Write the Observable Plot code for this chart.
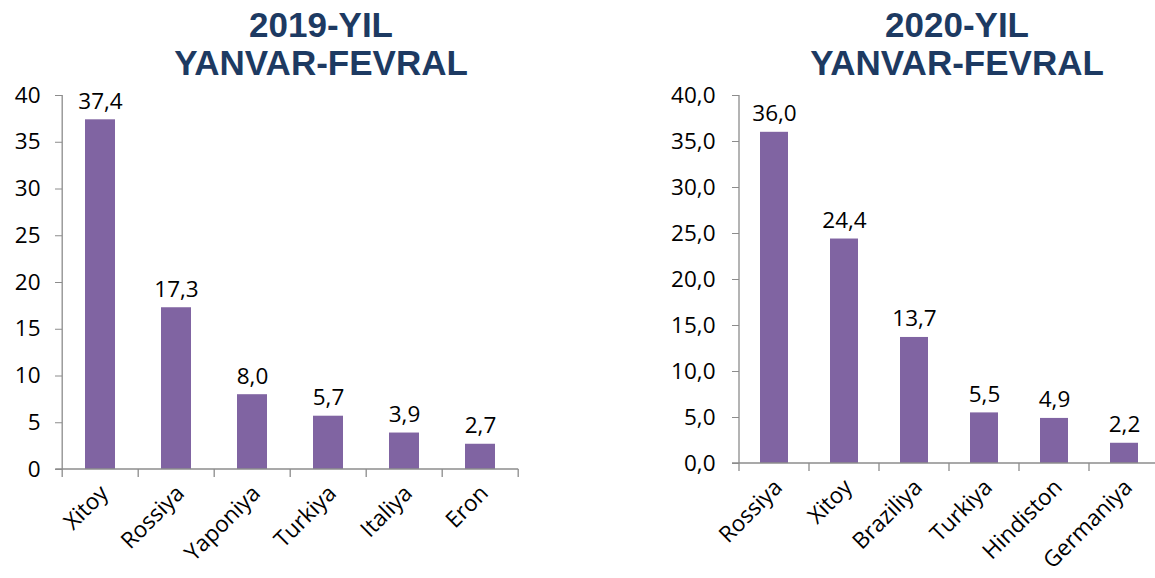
<!DOCTYPE html>
<html><head><meta charset="utf-8">
<script src="https://cdn.jsdelivr.net/npm/d3@7"></script>
<script src="https://cdn.jsdelivr.net/npm/@observablehq/plot@0.6"></script>
<style>
html,body{margin:0;padding:0;background:#fff;overflow:hidden;width:1155px;height:578px}
#wrap{position:relative;width:1155px;height:578px;overflow:hidden}
.title{position:absolute;top:6px;width:400px;text-align:center;font:bold 35px "Liberation Sans",Arial,sans-serif;line-height:38px;color:#1d3a62;white-space:nowrap}
.chart{position:absolute;top:0}
.chart svg{max-width:none !important;height:578px !important}
</style></head><body><div id="wrap"></div>
<script>
const countries2019 = ["Xitoy","Rossiya","Yaponiya","Turkiya","Italiya","Eron"];
const values2019 = [37.4, 17.3, 8.0, 5.7, 3.9, 2.7];
const countries2020 = ["Rossiya","Xitoy","Braziliya","Turkiya","Hindiston","Germaniya"];
const values2020 = [36.0, 24.4, 13.7, 5.5, 4.9, 2.2];
const yTicks = [0, 5, 10, 15, 20, 25, 30, 35, 40];
const title2019 = ["2019-YIL", "YANVAR-FEVRAL"];
const title2020 = ["2020-YIL", "YANVAR-FEVRAL"];

const PAD = 0.6;
const BAR = "#8064A2";
const AXIS = "#8c8c8c";
const FONT = "'Open Sans', sans-serif";
const FS = 22.5;
const dec1 = v => v.toFixed(1).replace(".", ",");

function chart(cats, vals, opt) {
  const data = cats.map((c, i) => ({country: c, value: vals[i]}));
  const frameMarks = (index, scales, values, dims) => {
    const x = scales.x, y = scales.y;
    const step = x(cats[1]) - x(cats[0]);
    const bw = step * (1 - PAD);
    const first = x(cats[0]) + bw / 2 - step / 2;
    const y0 = y(0), yTop = y(40);
    const g = d3.create("svg:g").attr("stroke", AXIS).attr("stroke-width", 1.3).attr("fill", "none");
    g.append("line").attr("x1", first).attr("x2", first).attr("y1", y0).attr("y2", yTop);
    g.append("line").attr("x1", first - 7).attr("x2", first + cats.length * step).attr("y1", y0).attr("y2", y0);
    for (let i = 0; i <= cats.length; i++) {
      const cx = first + i * step;
      g.append("line").attr("x1", cx).attr("x2", cx).attr("y1", y0).attr("y2", y0 + 8);
    }
    return g.node();
  };
  return Plot.plot({
    width: opt.width, height: 578,
    marginLeft: opt.marginLeft, marginRight: opt.marginRight,
    marginTop: 95, marginBottom: opt.marginBottom,
    style: {fontFamily: FONT, fontSize: FS + "px", color: "#000", background: "transparent", overflow: "visible"},
    x: {domain: cats, paddingInner: PAD, paddingOuter: PAD / 2, label: null},
    y: {domain: [0, 40], label: null},
    marks: [
      Plot.barY(data, {x: "country", y: "value", fill: BAR}),
      frameMarks,
      Plot.axisY({ticks: yTicks, tickSize: 7, tickPadding: opt.tickPadding, stroke: AXIS, fill: "#000", fontSize: FS, tickFormat: opt.tickFormat, label: null}),
      Plot.axisX({tickSize: 0, tickRotate: -45, tickPadding: 20, dx: 4, fill: "#000", fontSize: FS, label: null}),
      Plot.text(data, {x: "country", y: "value", text: d => dec1(d.value), lineAnchor: "bottom", dy: -11, fontSize: FS, fill: "#000"})
    ]
  });
}

const wrap = document.getElementById("wrap");

function place(svg, left, width, title, center) {
  const d = document.createElement("div");
  d.className = "chart";
  d.style.left = left + "px";
  d.style.width = width + "px";
  d.appendChild(svg);
  wrap.appendChild(d);
  const t = document.createElement("div");
  t.className = "title";
  t.style.left = (center - 200) + "px";
  t.innerHTML = title.join("<br>");
  wrap.appendChild(t);
}

place(chart(countries2019, values2019, {width: 560, marginLeft: 62, marginRight: 42, marginBottom: 109, tickPadding: 15, tickFormat: d => String(d)}), 0, 560, title2019, 321);
place(chart(countries2020, values2020, {width: 600, marginLeft: 159, marginRight: 21, marginBottom: 115, tickPadding: 17, tickFormat: d => dec1(d)}), 580, 600, title2020, 957);
</script>
</body></html>
